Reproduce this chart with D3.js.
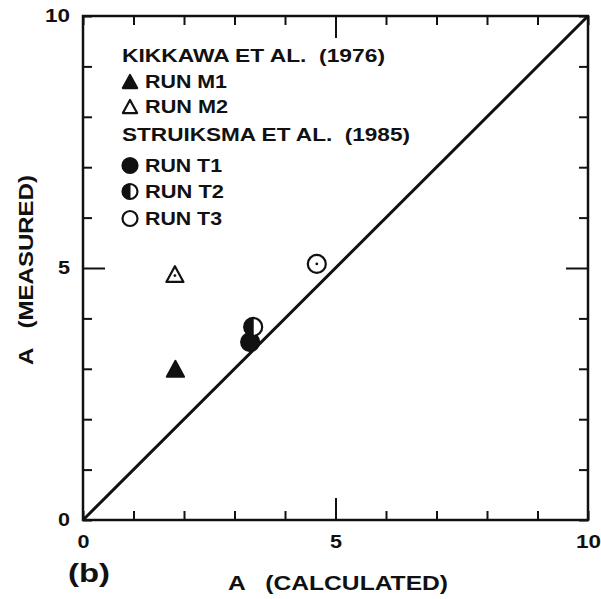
<!DOCTYPE html>
<html>
<head>
<meta charset="utf-8">
<script src="https://cdn.jsdelivr.net/npm/d3@7"></script>
<style>
  html, body { margin: 0; padding: 0; background: #fff; }
  svg { display: block; }
  text { font-family: "Liberation Sans", Arial, Helvetica, sans-serif; font-weight: bold; fill: #111; white-space: pre; }
</style>
</head>
<body>
<svg id="chart" width="601" height="599"></svg>
<script>
// Run identifiers and their calculated / measured A values
const runs = ["RUN M1", "RUN M2", "RUN T1", "RUN T2", "RUN T3"];
const calculated = [1.83, 1.82, 3.31, 3.37, 4.63];
const measured = [3.0, 4.88, 3.53, 3.83, 5.08];
const markers = ["triFill", "triOpen", "circFill", "circHalf", "circOpen"];

// Legend groups
const sources = ["KIKKAWA ET AL.  (1976)", "STRUIKSMA ET AL.  (1985)"];
const sourceRuns = [[0, 1], [2, 3, 4]];

// Axis settings
const domainMin = 0, domainMax = 10;
const tickValues = d3.range(0, 11);
const labelledTicks = [0, 5, 10];
const xTitle = "A   (CALCULATED)";
const yTitle = "A   (MEASURED)";
const panelLabel = "(b)";

const svg = d3.select("#chart");
const plotL = 83, plotR = 588, plotT = 16, plotB = 520;

const x = d3.scaleLinear().domain([domainMin, domainMax]).range([plotL, plotR]);
const y = d3.scaleLinear().domain([domainMin, domainMax]).range([plotB, plotT]);

const minorLen = 9, majorLen = 22;
const fmt = d => labelledTicks.includes(d) ? String(d) : "";

function styleAxis(g, major) {
  g.select(".domain").remove();
  g.selectAll(".tick line").attr("stroke", "#111").attr("stroke-width", 2);
  g.selectAll(".tick text")
    .style("font-size", "18px")
    .attr("fill", "#111")
    .each(function (d) {
      const s = fmt(d);
      if (s) d3.select(this).attr("textLength", s.length === 1 ? 12 : 25).attr("lengthAdjust", "spacingAndGlyphs");
    });
  if (major) {
    g.selectAll(".tick").filter(d => d === 5).select("line").each(function () {
      const l = d3.select(this);
      ["x2", "y2"].forEach(a => {
        const v = +l.attr(a);
        if (v) l.attr(a, Math.sign(v) * majorLen);
      });
    });
  }
}

// Bottom axis with labels
svg.append("g").attr("transform", `translate(0,${plotB})`)
  .call(d3.axisBottom(x).tickValues(tickValues).tickSize(-minorLen).tickPadding(15).tickFormat(fmt))
  .call(g => styleAxis(g, true));

// Left axis with labels
svg.append("g").attr("transform", `translate(${plotL},0)`)
  .call(d3.axisLeft(y).tickValues(tickValues).tickSize(-minorLen).tickPadding(13).tickFormat(fmt))
  .call(g => styleAxis(g, true));

// Top and right axes: inward ticks only
svg.append("g").attr("transform", `translate(0,${plotT})`)
  .call(d3.axisTop(x).tickValues(tickValues).tickSize(-minorLen).tickFormat(""))
  .call(g => styleAxis(g, true));
svg.append("g").attr("transform", `translate(${plotR},0)`)
  .call(d3.axisRight(y).tickValues(tickValues).tickSize(-minorLen).tickFormat(""))
  .call(g => styleAxis(g, true));

// Frame
svg.append("rect")
  .attr("x", x(domainMin)).attr("y", y(domainMax))
  .attr("width", x(domainMax) - x(domainMin)).attr("height", y(domainMin) - y(domainMax))
  .attr("fill", "none").attr("stroke", "#111").attr("stroke-width", 2.5);

// 1:1 line
svg.append("line")
  .attr("x1", x(domainMin)).attr("y1", y(domainMin))
  .attr("x2", x(domainMax)).attr("y2", y(domainMax))
  .attr("stroke", "#111").attr("stroke-width", 3);

// Marker drawing
function drawMarker(g, type, cx, cy, r, withDot) {
  const ink = "#111";
  if (type === "triFill" || type === "triOpen") {
    const w = r * 1.9, h = r * 1.75;
    const p = `M${cx},${cy - h / 2}L${cx + w / 2},${cy + h / 2}L${cx - w / 2},${cy + h / 2}Z`;
    g.append("path").attr("d", p)
      .attr("fill", type === "triFill" ? ink : "#fff")
      .attr("stroke", ink).attr("stroke-width", 2.2).attr("stroke-linejoin", "round");
    if (withDot && type === "triOpen")
      g.append("circle").attr("cx", cx).attr("cy", cy + 1.5).attr("r", 1.4).attr("fill", ink);
  } else {
    g.append("circle").attr("cx", cx).attr("cy", cy).attr("r", r)
      .attr("fill", type === "circFill" ? ink : "#fff")
      .attr("stroke", ink).attr("stroke-width", 2.2);
    if (type === "circHalf") {
      g.append("path")
        .attr("d", `M${cx},${cy - r}A${r},${r} 0 0 0 ${cx},${cy + r}Z`)
        .attr("fill", ink).attr("stroke", ink).attr("stroke-width", 1);
    }
    if (withDot && type === "circOpen")
      g.append("circle").attr("cx", cx).attr("cy", cy).attr("r", 1.4).attr("fill", ink);
  }
}

// Data points
const pts = svg.append("g");
runs.forEach((r, i) => {
  drawMarker(pts, markers[i], x(calculated[i]), y(measured[i]), 9, true);
});

// Legend
const lg = svg.append("g");
const legendX = 122, markerX = 130, runX = 145;
const srcLen = [263, 288];
const runLen = [82, 83, 77, 79, 77];
const srcBase = [62, 141];
const runBase = [88, 113, 172, 198, 225];
sources.forEach((s, si) => {
  lg.append("text").attr("x", legendX).attr("y", srcBase[si]).text(s)
    .style("font-size", "18px")
    .attr("textLength", srcLen[si]).attr("lengthAdjust", "spacingAndGlyphs");
  sourceRuns[si].forEach(i => {
    drawMarker(lg, markers[i], markerX, runBase[i] - 6.5, 7.5, false);
    lg.append("text").attr("x", runX).attr("y", runBase[i]).text(runs[i])
      .style("font-size", "18px")
      .attr("textLength", runLen[i]).attr("lengthAdjust", "spacingAndGlyphs");
  });
});

// Axis titles
svg.append("text").attr("x", 228).attr("y", 590).text(xTitle)
  .style("font-size", "20px")
  .attr("textLength", 220).attr("lengthAdjust", "spacingAndGlyphs");
svg.append("text").attr("transform", "translate(33,365) rotate(-90)").text(yTitle)
  .style("font-size", "20px")
  .attr("textLength", 190).attr("lengthAdjust", "spacingAndGlyphs");

// Panel label
svg.append("text").attr("x", 68).attr("y", 582).text(panelLabel)
  .style("font-size", "26px")
  .attr("textLength", 42).attr("lengthAdjust", "spacingAndGlyphs");
</script>
</body>
</html>
